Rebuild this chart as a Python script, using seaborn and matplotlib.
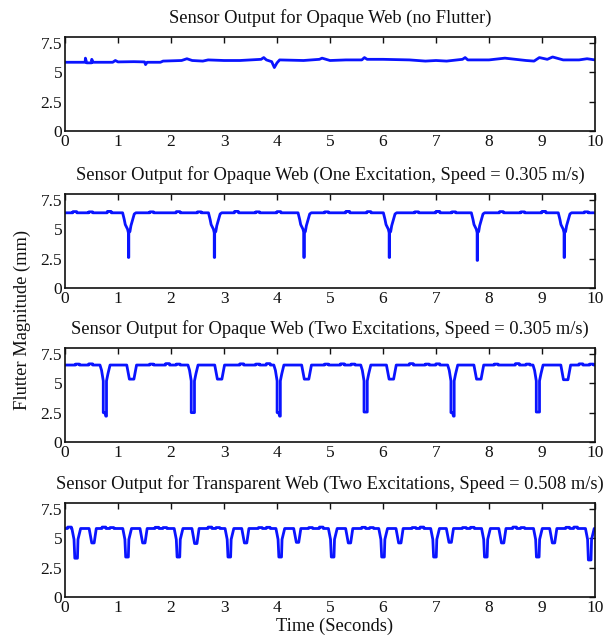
import numpy as np
import pandas as pd
import matplotlib
matplotlib.use("Agg")
import matplotlib.pyplot as plt
import seaborn as sns

# ---------------- data ----------------
titles = [
    "Sensor Output for Opaque Web (no Flutter)",
    "Sensor Output for Opaque Web (One Excitation, Speed = 0.305 m/s)",
    "Sensor Output for Opaque Web (Two Excitations, Speed = 0.305 m/s)",
    "Sensor Output for Transparent Web (Two Excitations, Speed = 0.508 m/s)",
]
x_ticks = [0, 1, 2, 3, 4, 5, 6, 7, 8, 9, 10]
y_ticks = [0, 2.5, 5, 7.5]
y_tick_labels = ["0", "2.5", "5", "7.5"]

# Panel 1: no flutter, traced vertices
p1_t = [0, 0.38, 0.385, 0.41, 0.5, 0.505, 0.53, 0.9, 0.95, 1.0, 1.3, 1.5, 1.52, 1.55, 1.8,
        1.85, 2.2, 2.3, 2.4, 2.6, 2.7, 3.0, 3.3, 3.5, 3.7, 3.75, 3.8, 3.9, 3.95, 4.0, 4.05,
        4.5, 4.8, 4.85, 5.0, 5.3, 5.6, 5.65, 5.7, 6.0, 6.5, 6.8, 7.0, 7.2, 7.5, 7.55, 7.6,
        8.0, 8.2, 8.3, 8.5, 8.7, 8.85, 8.95, 9.1, 9.2, 9.4, 9.7, 9.85, 10]
p1_v = [5.85, 5.85, 6.2, 5.8, 5.8, 6.1, 5.85, 5.85, 6.0, 5.88, 5.9, 5.88, 5.65, 5.85, 5.85,
        5.95, 6.0, 6.15, 6.0, 5.95, 6.05, 6.0, 6.0, 6.05, 6.1, 6.25, 6.05, 5.9, 5.4, 5.8, 6.05,
        6.0, 6.1, 6.2, 6.0, 6.05, 6.05, 6.25, 6.1, 6.1, 6.05, 5.95, 6.0, 5.95, 6.1, 6.25, 6.05,
        6.05, 6.15, 6.2, 6.1, 6.0, 5.95, 6.25, 6.1, 6.3, 6.05, 6.05, 6.15, 6.05]

# Panel 2: one excitation
p2_base = 6.4
p2_dip_t = [1.20, 2.82, 4.51, 6.12, 7.78, 9.42]
p2_dip_depth = [2.6, 2.6, 2.6, 2.6, 2.35, 2.6]
p2_bump_t = [0.15, 0.45, 0.8, 1.6, 2.1, 2.5, 3.2, 3.6, 4.0, 4.9, 5.3, 5.7, 6.6, 7.0, 7.3, 8.2, 8.6, 9.0, 9.8]
p2_bump_h = [0.1, 0.08, 0.12, 0.08, 0.1, 0.08, 0.12, 0.08, 0.1, 0.08, 0.12, 0.1, 0.08, 0.12, 0.08, 0.1, 0.08, 0.12, 0.08]
# dip shape (offsets from dip time / levels) read from a zoomed dip
p2_shape_dt = [-0.113, -0.082, -0.063, -0.019, -0.004, -0.004, 0.004, 0.004, 0.025, 0.044, 0.076, 0.107, 0.138]
p2_shape_v = [None, 5.83, 5.4, 5.0, 4.7, "d", "d", 4.7, 4.8, 5.3, 5.8, 6.3, None]

# Panel 3: two excitations, opaque
p3_base = 6.55
p3_big_t = [0.75, 2.41, 4.03, 5.67, 7.31, 8.92]
p3_big_left = [2.5, 2.5, 2.5, 2.55, 2.5, 2.55]
p3_big_right = [2.2, 2.5, 2.2, 2.55, 2.2, 2.55]
p3_small_t = [1.26, 2.92, 4.56, 6.16, 7.81, 9.45]
p3_small_v = [5.35, 5.35, 5.35, 5.35, 5.35, 5.3]
p3_bump_t = [0.2, 0.45, 1.6, 1.9, 2.1, 3.3, 3.6, 3.8, 4.9, 5.2, 5.4, 6.5, 6.8, 7.0, 8.1, 8.5, 8.7, 9.7, 9.9]
p3_bump_h = [0.08, 0.1, 0.08, 0.12, 0.08, 0.1, 0.08, 0.12, 0.08, 0.1, 0.08, 0.12, 0.08, 0.1, 0.08, 0.12, 0.08, 0.1, 0.08]
p3_big_dt = [-0.09, -0.06, -0.035, -0.028, -0.028, 0.0, 0.02, 0.033, 0.033, 0.06, 0.10]
p3_big_v = [None, 6.1, 5.35, 5.2, "l", "l", "r", "r", 5.2, 5.8, None]
p3_small_dt = [-0.095, -0.045, 0.04, 0.09]
p3_small_lv = [None, "s", "s", None]

# Panel 4: two excitations, transparent
p4_base = 5.83
p4_big_t = [0.21, 1.17, 2.14, 3.10, 4.06, 5.05, 6.00, 6.98, 7.94, 8.92, 9.90]
p4_big_depth = [3.3, 3.4, 3.4, 3.4, 3.4, 3.4, 3.4, 3.4, 3.4, 3.4, 3.15]
p4_small_t = [0.52, 1.48, 2.46, 3.40, 4.38, 5.36, 6.31, 7.26, 8.25, 9.21]
p4_small_v = [4.6, 4.6, 4.55, 4.6, 4.65, 4.6, 4.6, 4.65, 4.6, 4.6]
p4_bump_t = [0.05, 0.7, 0.85, 1.7, 1.85, 2.7, 2.85, 3.65, 3.8, 4.6, 4.8, 5.6, 5.75, 6.55, 6.7, 7.5, 7.65, 8.45, 8.6, 9.45, 9.6]
p4_bump_h = [0.12, 0.12, 0.08, 0.1, 0.08, 0.12, 0.08, 0.08, 0.1, 0.08, 0.12, 0.1, 0.08, 0.08, 0.12, 0.08, 0.1, 0.12, 0.08, 0.1, 0.12]
p4_big_dt = [-0.08, -0.04, -0.025, 0.025, 0.035, 0.085]
p4_big_v = [None, 4.9, "d", "d", 4.9, None]
p4_small_dt = [-0.065, -0.015, 0.03, 0.07]
p4_small_lv = [None, "s", "s", None]


def add_shape(pts, tc, dts, vals, base, subs):
    for dt, v in zip(dts, vals):
        if v is None:
            val = base
        elif isinstance(v, str):
            val = subs[v]
        else:
            val = v
        pts.append((tc + dt, val))


def add_bumps(pts, ts, hs, base):
    for tb, h in zip(ts, hs):
        pts.extend([(tb - 0.003, base), (tb, base + h), (tb + 0.07, base + h), (tb + 0.073, base)])


def to_frame(pts):
    pts = sorted(pts, key=lambda p: p[0])
    return pd.DataFrame({"t": [p[0] for p in pts], "v": [p[1] for p in pts]})


# Panel 1
df1 = pd.DataFrame({"t": p1_t, "v": p1_v})

# Panel 2
pts = [(0.0, p2_base), (10.0, p2_base)]
add_bumps(pts, p2_bump_t, p2_bump_h, p2_base)
for tc, d in zip(p2_dip_t, p2_dip_depth):
    add_shape(pts, tc, p2_shape_dt, p2_shape_v, p2_base, {"d": d})
df2 = to_frame(pts)

# Panel 3
pts = [(0.0, p3_base), (10.0, p3_base)]
add_bumps(pts, p3_bump_t, p3_bump_h, p3_base)
for tc, l, r in zip(p3_big_t, p3_big_left, p3_big_right):
    add_shape(pts, tc, p3_big_dt, p3_big_v, p3_base, {"l": l, "r": r})
for tc, s in zip(p3_small_t, p3_small_v):
    add_shape(pts, tc, p3_small_dt, p3_small_lv, p3_base, {"s": s})
df3 = to_frame(pts)

# Panel 4
pts = [(0.0, p4_base), (10.0, p4_base)]
add_bumps(pts, p4_bump_t, p4_bump_h, p4_base)
for tc, d in zip(p4_big_t, p4_big_depth):
    add_shape(pts, tc, p4_big_dt, p4_big_v, p4_base, {"d": d})
for tc, s in zip(p4_small_t, p4_small_v):
    add_shape(pts, tc, p4_small_dt, p4_small_lv, p4_base, {"s": s})
df4 = to_frame(pts)

frames = [df1, df2, df3, df4]

# ---------------- drawing ----------------
sns.set_theme(style="white")
plt.rcParams["font.family"] = ["Liberation Serif", "DejaVu Serif"]

W, H = 614, 637
fig = plt.figure(figsize=(W / 100, H / 100), dpi=100)

tops = [37, 194, 348, 503]
ax_h = 94
left_px, right_px = 65, 595

for i, (df, title) in enumerate(zip(frames, titles)):
    top = tops[i]
    ax = fig.add_axes([left_px / W, 1 - (top + ax_h) / H, (right_px - left_px) / W, ax_h / H])
    sns.lineplot(data=df, x="t", y="v", ax=ax, color="#0a14ff", linewidth=2.0,
                 estimator=None, sort=False)
    ax.set_xlim(0, 10)
    ax.set_ylim(0, 8)
    ax.set_xticks(x_ticks)
    ax.set_xticklabels([str(x) for x in x_ticks])
    ax.set_yticks(y_ticks)
    ax.set_yticklabels(y_tick_labels)
    ax.set_xlabel("")
    ax.set_ylabel("")
    ax.set_title(title, fontsize=13.3, pad=10, color="#111111")
    ax.tick_params(direction="in", length=4, width=1, top=True, right=True,
                   labelsize=12.5, colors="#111111", pad=2)
    for sp in ax.spines.values():
        sp.set_visible(True)
        sp.set_color("#111111")
        sp.set_linewidth(1.2)

fig.text(22 / W, 1 - 320 / H, "Flutter Magnitude (mm)", rotation=90,
         ha="center", va="center", fontsize=13.3, color="#111111")
fig.text(335 / W, 1 - 626 / H, "Time (Seconds)",
         ha="center", va="center", fontsize=13.3, color="#111111")

fig.savefig("out.png", dpi=100)
